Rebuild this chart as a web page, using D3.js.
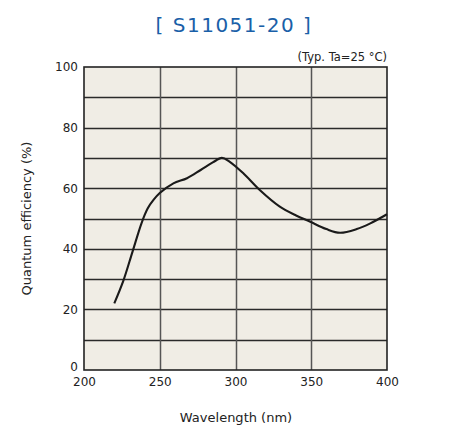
<!DOCTYPE html>
<html>
<head>
<meta charset="utf-8">
<script src="https://cdn.jsdelivr.net/npm/d3@7"></script>
<style>
  body { margin: 0; background: #fff; }
  svg { display: block; }
  text { font-family: "DejaVu Sans", Verdana, sans-serif; }
</style>
</head>
<body>
<svg id="graph" width="466" height="429"></svg>
<script>
var marge = {haut: 67, droite: 79, bas: 59, gauche: 84};
var largeur = 466, hauteur = 429;

// longueurs d'onde (nm) et efficacite quantique (%)
const longueurs = [220, 226, 232, 238, 242, 246, 250, 259, 268, 277, 285, 291, 296, 305, 316, 329, 340, 349, 360, 369, 380, 389, 400];
const efficacite = [22, 29.5, 39, 48.5, 53.3, 56.2, 58.4, 61.6, 63.3, 66, 68.5, 70, 68.8, 65, 59.4, 54, 51, 49, 46.5, 45.3, 46.5, 48.4, 51.4];
const ticksX = [200, 250, 300, 350, 400];
const ticksY = [0, 20, 40, 60, 80, 100];
const grilleY = [10, 20, 30, 40, 50, 60, 70, 80, 90];
const grilleX = [250, 300, 350];

const svg = d3.select('#graph');

var xScale = d3.scaleLinear().domain([200, 400]).range([marge.gauche, largeur - marge.droite]);
var yScale = d3.scaleLinear().domain([0, 100]).range([hauteur - marge.bas, marge.haut]);

// titre
svg.append('text')
    .attr('x', 234).attr('y', 32)
    .attr('text-anchor', 'middle')
    .attr('fill', '#1a5fa8')
    .style('font-size', '20px')
    .style('letter-spacing', '1.5px')
    .text('[ S11051-20 ]');

svg.append('text')
    .attr('x', xScale(400)).attr('y', 61)
    .attr('text-anchor', 'end')
    .attr('fill', '#222')
    .style('font-size', '11.5px')
    .text('(Typ. Ta=25 °C)');

// fond
svg.append('rect')
    .attr('x', xScale(200)).attr('y', yScale(100))
    .attr('width', xScale(400) - xScale(200))
    .attr('height', yScale(0) - yScale(100))
    .attr('fill', '#f0ede5');

// grille
svg.selectAll('.gy').data(grilleY).enter().append('line')
    .attr('x1', xScale(200)).attr('x2', xScale(400))
    .attr('y1', d => Math.round(yScale(d)) + 0.5).attr('y2', d => Math.round(yScale(d)) + 0.5)
    .attr('stroke', '#2a2a2a').attr('stroke-width', 1.3);

svg.selectAll('.gx').data(grilleX).enter().append('line')
    .attr('x1', d => Math.round(xScale(d)) + 0.5).attr('x2', d => Math.round(xScale(d)) + 0.5)
    .attr('y1', yScale(0)).attr('y2', yScale(100))
    .attr('stroke', '#555').attr('stroke-width', 1.5);

// cadre
svg.append('rect')
    .attr('x', xScale(200)).attr('y', yScale(100))
    .attr('width', xScale(400) - xScale(200))
    .attr('height', yScale(0) - yScale(100))
    .attr('fill', 'none')
    .attr('stroke', '#222').attr('stroke-width', 1.6);

// axes
var xAxis = d3.axisBottom(xScale).tickValues(ticksX).tickSize(0).tickPadding(7);
var yAxis = d3.axisLeft(yScale).tickValues(ticksY).tickSize(0).tickPadding(6);

var gx = svg.append('g').attr('transform', `translate(0, ${yScale(0)})`).call(xAxis);
var gy = svg.append('g').attr('transform', `translate(${xScale(200)}, 0)`).call(yAxis);
[gx, gy].forEach(g => {
    g.select('.domain').remove();
    g.selectAll('text').style('font-size', '12px').attr('fill', '#222')
        .style('font-family', '"DejaVu Sans", Verdana, sans-serif');
});
// le "0" est un peu remonte pour ne pas toucher "200"
gy.selectAll('.tick').filter(d => d === 0).select('text').attr('y', -3);

// libelles
svg.append('text')
    .attr('x', 236).attr('y', 422)
    .attr('text-anchor', 'middle')
    .attr('fill', '#222')
    .style('font-size', '13px')
    .text('Wavelength (nm)');

svg.append('text')
    .attr('transform', `translate(31, ${(yScale(0) + yScale(100)) / 2}) rotate(-90)`)
    .attr('text-anchor', 'middle')
    .attr('fill', '#222')
    .style('font-size', '13px')
    .text('Quantum efficiency (%)');

// courbe
var ligne = d3.line()
    .x((d, i) => xScale(longueurs[i]))
    .y(d => yScale(d))
    .curve(d3.curveCatmullRom);

svg.append('path')
    .datum(efficacite)
    .attr('d', ligne)
    .attr('fill', 'none')
    .attr('stroke', '#1a1a1a')
    .attr('stroke-width', 2.1);
</script>
</body>
</html>
